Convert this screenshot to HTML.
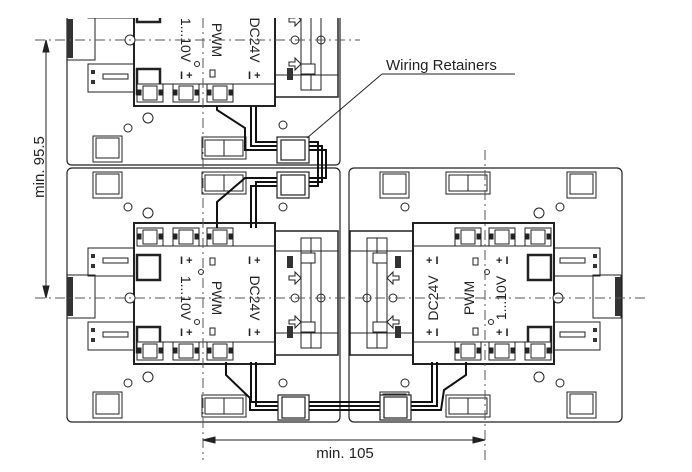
<!DOCTYPE html>
<html><head><meta charset="utf-8"><style>
html,body{margin:0;padding:0;background:#fff;}
svg{display:block;}
text{font-family:"Liberation Sans",sans-serif;fill:#222;}
</style></head><body>
<svg width="692" height="472" viewBox="0 0 692 472" xmlns="http://www.w3.org/2000/svg">
<defs>
<g id="term">
 <rect x="0" y="0" width="26" height="18" fill="#fff" stroke="#222" stroke-width="1"/>
 <rect x="6" y="2" width="14" height="14" fill="#fff" stroke="#222" stroke-width="1"/>
 <rect x="1" y="6" width="3" height="5" fill="#222"/><rect x="22" y="6" width="3" height="5" fill="#222"/>
</g>
<g id="mod" fill="none" stroke="#222" stroke-width="1">
 <rect x="72" y="-67" width="63" height="124" stroke-width="1.5"/>
 <line x1="72" y1="-47" x2="135" y2="-47"/><line x1="72" y1="35" x2="135" y2="35"/>
 <rect x="98" y="-60" width="20" height="110"/>
 <line x1="108" y1="-60" x2="108" y2="50"/>
 <rect x="98" y="-45" width="14" height="10" fill="#fff"/><rect x="98" y="24" width="14" height="10" fill="#fff"/>
 <rect x="84" y="-42" width="6" height="12" fill="#333" stroke="none"/>
 <rect x="84" y="28" width="6" height="12" fill="#333" stroke="none"/>
 <path d="M86 -22 h6 v-4 l6 6 l-6 6 v-4 h-6z"/>
 <path d="M86 22 h6 v-4 l6 6 l-6 6 v-4 h-6z"/>
 <circle cx="92" cy="0" r="4"/><circle cx="118" cy="0" r="4"/>
 <rect x="-69" y="-75" width="141" height="141" fill="#fff" stroke-width="2"/>
 <rect x="-66" y="-43" width="23" height="25" stroke-width="2.5"/>
 <rect x="-66" y="29" width="23" height="25" stroke-width="2.5"/>
 <rect x="-115" y="-50" width="46" height="28"/>
 <rect x="-115" y="24" width="46" height="28"/>
 <rect x="-100" y="-40" width="25" height="5"/><rect x="-100" y="34" width="25" height="5"/>
 <rect x="-112" y="-44" width="4" height="4" fill="#333" stroke="none"/><rect x="-112" y="-34" width="4" height="4" fill="#333" stroke="none"/>
 <rect x="-112" y="30" width="4" height="4" fill="#333" stroke="none"/><rect x="-112" y="40" width="4" height="4" fill="#333" stroke="none"/>
 <rect x="-136" y="-23" width="28" height="43"/><rect x="-136" y="-21" width="6" height="39" fill="#333" stroke="none"/>
 <circle cx="-73" cy="0" r="5" fill="#fff"/>
 <use href="#term" x="-66" y="-70"/><use href="#term" x="-30" y="-70"/><use href="#term" x="4" y="-70"/>
 <use href="#term" x="-66" y="44"/><use href="#term" x="-30" y="44"/><use href="#term" x="4" y="44"/>
 <line x1="-66" y1="-52" x2="72" y2="-52"/><line x1="-66" y1="44" x2="72" y2="44"/>
 <circle cx="-2" cy="-26" r="2.5"/><circle cx="-6" cy="24" r="2.5"/>
 <rect x="7" y="-40" width="5" height="7"/><rect x="7" y="30" width="5" height="7"/>
</g>
<g id="sq" fill="none" stroke="#222" stroke-width="1"><rect x="0" y="0" width="29" height="26"/><rect x="3" y="2" width="23" height="20"/></g>
<g id="slot" fill="none" stroke="#222" stroke-width="1"><rect x="0" y="0" width="44" height="22"/><rect x="3" y="3" width="19" height="16"/><rect x="22" y="3" width="19" height="16"/></g>
</defs>

<g fill="none" stroke="#222" stroke-width="1.2">
 <path d="M67 18 V160 q0 5 5 5 H335 q5 0 5 -5 V18"/>
 <rect x="67" y="168" width="273" height="254" rx="5"/>
 <rect x="349" y="168" width="273" height="254" rx="5"/>
</g>
<use href="#sq" x="93" y="136"/><use href="#slot" x="202" y="137"/>
<use href="#sq" x="93" y="172"/><use href="#slot" x="202" y="172"/>
<use href="#sq" x="93" y="392"/><use href="#slot" x="202" y="395"/>
<use href="#sq" x="380" y="172"/><use href="#slot" x="446" y="172"/><use href="#sq" x="567" y="172"/>
<use href="#sq" x="380" y="392"/><use href="#slot" x="446" y="395"/><use href="#sq" x="567" y="392"/>
<g fill="none" stroke="#222" stroke-width="1">
 <circle cx="128" cy="128" r="4"/><circle cx="148" cy="118" r="5"/><circle cx="283" cy="125" r="4"/>
 <circle cx="128" cy="207" r="4"/><circle cx="148" cy="213" r="5"/><circle cx="283" cy="207" r="4"/>
 <circle cx="128" cy="383" r="4"/><circle cx="148" cy="377" r="5"/><circle cx="283" cy="383" r="4"/>
 <circle cx="405" cy="207" r="4"/><circle cx="539" cy="213" r="5"/><circle cx="560" cy="207" r="4"/>
 <circle cx="405" cy="383" r="4"/><circle cx="539" cy="377" r="5"/><circle cx="560" cy="383" r="4"/>
</g>

<svg x="0" y="18" width="692" height="147" overflow="hidden"><use href="#mod" transform="translate(203,22)"/></svg>
<use href="#mod" transform="translate(203,298)"/>
<use href="#mod" transform="translate(485,298) scale(-1,1)"/>

<g fill="none" stroke="#111" stroke-width="2">
 <path d="M217 106 V110 L245 128 V150 H282"/>
 <path d="M251 106 V146 H282"/><path d="M256 106 V142 H282"/>
 <path d="M305 146 H322 V182 H305"/><path d="M305 150 H326 V178 H305"/><path d="M305 142 H318 V186 H305"/>
 <path d="M282 178 H245 L217 202 V228"/>
 <path d="M282 182 H256 V228"/><path d="M282 186 H251 V228"/>
 <path d="M226 362 V375 L250 398 V410 H282"/>
 <path d="M251 362 V402 H282"/><path d="M256 362 V406 H282"/>
 <path d="M307 402 H383"/><path d="M307 406 H383"/><path d="M307 410 H383"/>
 <path d="M408 402 H432 V362"/><path d="M408 406 H437 V362"/><path d="M408 410 H441 L444 390 L466 375 V362"/>
</g>
<g fill="#fff" stroke="#222" stroke-width="1.2">
 <rect x="277" y="137" width="32" height="26"/><rect x="281" y="140" width="24" height="20"/>
 <rect x="277" y="172" width="32" height="26"/><rect x="281" y="175" width="24" height="20"/>
 <rect x="278" y="395" width="31" height="25"/><rect x="282" y="397" width="23" height="21"/>
 <rect x="380" y="395" width="31" height="25"/><rect x="384" y="397" width="23" height="21"/>
</g>

<g font-size="14">
 <text transform="translate(181,298) rotate(90)" text-anchor="middle">1...10V</text>
 <text transform="translate(212,298) rotate(90)" text-anchor="middle">PWM</text>
 <text transform="translate(250,298) rotate(90)" text-anchor="middle">DC24V</text>
 <text transform="translate(181,40) rotate(90)" text-anchor="middle">1...10V</text>
 <text transform="translate(212,40) rotate(90)" text-anchor="middle">PWM</text>
 <text transform="translate(250,40) rotate(90)" text-anchor="middle">DC24V</text>
 <text transform="translate(438,298) rotate(-90)" text-anchor="middle">DC24V</text>
 <text transform="translate(474,298) rotate(-90)" text-anchor="middle">PWM</text>
 <text transform="translate(506,298) rotate(-90)" text-anchor="middle">1...10V</text>
</g>
<g font-size="11" font-weight="bold">
 <text x="180" y="264">I +</text><text x="248" y="264">I +</text>
 <text x="180" y="336">I +</text><text x="248" y="336">I +</text>
 <text x="180" y="79">I +</text><text x="248" y="79">I +</text>
 <text x="426" y="264">+ I</text><text x="496" y="264">+ I</text>
 <text x="426" y="336">+ I</text><text x="496" y="336">+ I</text>
</g>

<g stroke="#555" stroke-width="1" stroke-dasharray="10,4,2,4" fill="none">
 <line x1="203" y1="18" x2="203" y2="460"/>
 <line x1="485" y1="150" x2="485" y2="460"/>
 <line x1="35" y1="40" x2="360" y2="40"/>
 <line x1="35" y1="298" x2="645" y2="298"/>
</g>

<g stroke="#222" stroke-width="1" fill="#222">
 <line x1="46" y1="42" x2="46" y2="296"/>
 <path d="M46 40 l-3 12 h6z"/><path d="M46 298 l-3 -12 h6z"/>
 <line x1="205" y1="440" x2="483" y2="440"/>
 <path d="M203 440 l12 -3 v6z"/><path d="M485 440 l-12 -3 v6z"/>
 <line x1="382" y1="74" x2="515" y2="74"/>
 <line x1="382" y1="74" x2="307" y2="138"/>
</g>
<text transform="translate(44,167) rotate(-90)" text-anchor="middle" font-size="15">min. 95.5</text>
<text x="345" y="458" text-anchor="middle" font-size="15">min. 105</text>
<text x="386" y="70" font-size="15">Wiring Retainers</text>
</svg>
</body></html>
